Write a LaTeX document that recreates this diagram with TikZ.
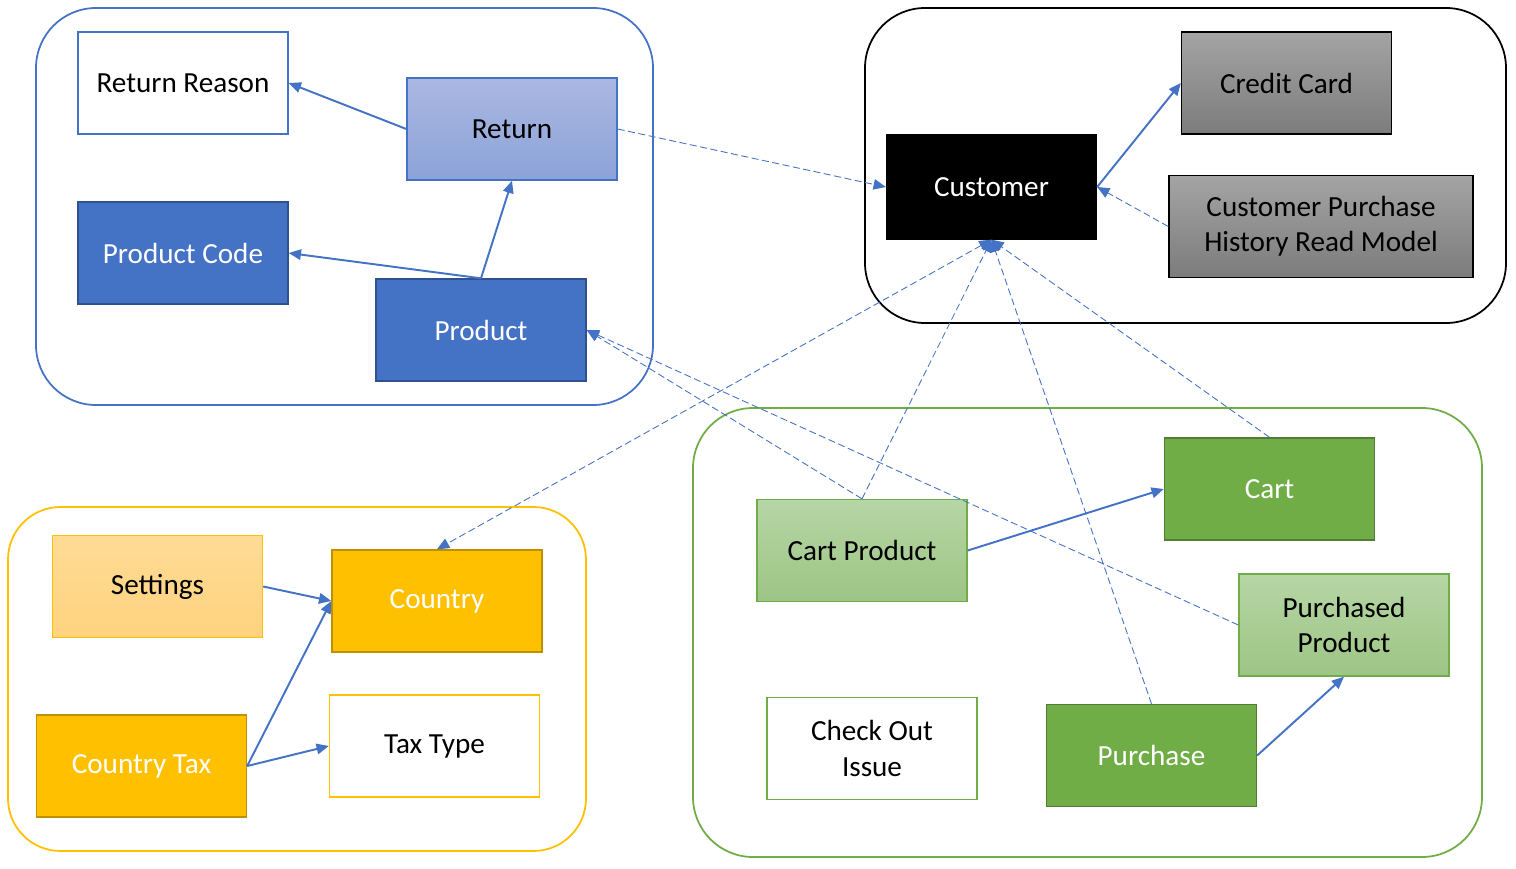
\documentclass[tikz,border=0pt]{standalone}
\usepackage{fontspec}
\setmainfont{Carlito}
\usepackage{xcolor}
\usetikzlibrary{arrows.meta}

\definecolor{officeblue}{HTML}{4472C4}
\definecolor{blueedge}{HTML}{2F528F}
\definecolor{gold}{HTML}{FFC000}
\definecolor{goldedge}{HTML}{BF9000}
\definecolor{officegreen}{HTML}{70AD47}
\definecolor{greenedge}{HTML}{507E32}

\begin{document}
\begin{tikzpicture}[
    x=0.02cm, y=-0.02cm,
    every node/.style={font=\fontsize{16.6}{20}\selectfont},
    entity/.style={rectangle, draw, minimum width=4.2cm, minimum height=2.04cm, align=center, line width=0.8pt},
    grp/.style={draw, line width=1pt, rounded corners=1.2cm},
    link/.style={-{Triangle[length=7pt, width=6pt]}, officeblue, line width=1.1pt},
    ref/.style={-{Triangle[length=7pt, width=6pt]}, officeblue, line width=0.5pt, dash pattern=on 4pt off 2pt}
]
\useasboundingbox (0,0) rectangle (1516,869);

% Groups
\draw[grp, officeblue] (36,8) rectangle (653,405);
\draw[grp, black] (865,8) rectangle (1506,323);
\draw[grp, gold, rounded corners=1.05cm] (8,507) rectangle (586,851);
\draw[grp, officegreen] (693,408) rectangle (1482,857);

% Returns / products
\node[entity, draw=officeblue, fill=white] (reason) at (183,83) {Return Reason};
\node[entity, draw=officeblue, top color={rgb,255:red,170;green,184;blue,226}, bottom color={rgb,255:red,140;green,163;blue,216}] (return) at (512,129) {Return};
\node[entity, draw=blueedge, fill=officeblue, text=white] (prodcode) at (183,253) {Product Code};
\node[entity, draw=blueedge, fill=officeblue, text=white] (product) at (481,330) {Product};

% Customer
\node[entity, draw=black, fill=black, text=white, minimum height=2.08cm] (customer) at (991.5,187) {Customer};
\node[entity, draw=black, top color={rgb,255:red,164;green,164;blue,164}, bottom color={rgb,255:red,124;green,124;blue,124}] (card) at (1286.5,83) {Credit Card};
\node[entity, draw=black, minimum width=6.08cm, top color={rgb,255:red,164;green,164;blue,164}, bottom color={rgb,255:red,124;green,124;blue,124}] (history) at (1321,226.5) {Customer Purchase\\History Read Model};

% Country settings
\node[entity, draw=gold, top color={rgb,255:red,255;green,219;blue,150}, bottom color={rgb,255:red,255;green,211;blue,126}] (settings) at (157.5,586.5) {Settings};
\node[entity, draw=goldedge, fill=gold, text=white] (country) at (437,601) {Country};
\node[entity, draw=goldedge, fill=gold, text=white] (countrytax) at (141.5,766) {Country Tax};
\node[entity, draw=gold, fill=white] (taxtype) at (434.5,746) {Tax Type};

% Cart / purchase
\node[entity, draw=officegreen, top color={rgb,255:red,182;green,214;blue,165}, bottom color={rgb,255:red,157;green,197;blue,133}] (cartprod) at (862,550.5) {Cart Product};
\node[entity, draw=greenedge, fill=officegreen, text=white] (cart) at (1269.5,489) {Cart};
\node[entity, draw=officegreen, top color={rgb,255:red,182;green,214;blue,165}, bottom color={rgb,255:red,157;green,197;blue,133}] (purchprod) at (1344,625) {Purchased\\Product};
\node[entity, draw=officegreen, fill=white] (checkout) at (872,748.5) {Check Out\\Issue};
\node[entity, draw=greenedge, fill=officegreen, text=white] (purchase) at (1151.5,755.5) {Purchase};

% Arrows - inside groups
\draw[link] (return.west) -- (reason.east);
\draw[link] (product.north) -- (return.south);
\draw[link] (product.north) -- (prodcode.east);
\draw[link] (customer.east) -- (card.west);
\draw[link] (settings.east) -- (country.west);
\draw[link] (countrytax.east) -- (country.west);
\draw[link] (countrytax.east) -- (taxtype.west);
\draw[link] (cartprod.east) -- (cart.west);
\draw[link] (purchase.east) -- (purchprod.south);

% Arrows - references between groups
\draw[ref] (return.east) -- (customer.west);
\draw[ref] (history.west) -- (customer.east);
\draw[ref, {Triangle[length=7pt, width=6pt]}-{Triangle[length=7pt, width=6pt]}] (customer.south) -- (country.north);
\draw[ref] (cartprod.north) -- (customer.south);
\draw[ref] (purchase.north) -- (customer.south);
\draw[ref] (cart.north) -- (customer.south);
\draw[ref] (cartprod.north) -- (product.east);
\draw[ref] (purchprod.west) -- (product.east);

\end{tikzpicture}
\end{document}
